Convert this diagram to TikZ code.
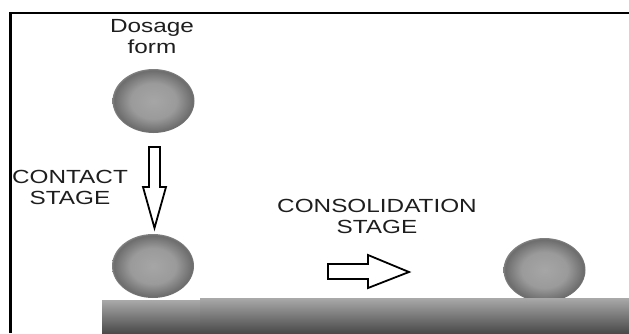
\documentclass[tikz,border=0pt]{standalone}
\usepackage{fontspec}
\setmainfont{Liberation Sans}
\usetikzlibrary{shapes.geometric}
\definecolor{txt}{HTML}{1E1E1E}
\definecolor{ballin}{HTML}{A6A6A6}
\definecolor{ballout}{HTML}{6C6C6C}
\definecolor{bartop}{HTML}{A8A8A8}
\definecolor{barbot}{HTML}{4A4A4A}
\pgfdeclareradialshading{ballshade}{\pgfpoint{0bp}{0bp}}{%
  color(0bp)=(ballin); color(14bp)=(ballin!80!ballout); color(24bp)=(ballout); color(25bp)=(ballout!85!white); color(50bp)=(ballout!85!white)}
\tikzset{
  lbl/.style={font=\fontsize{19}{21}\selectfont, text=txt, align=center, inner sep=0pt, anchor=base, xscale=1.28, transform shape},
  ball/.style={ellipse, shading=ballshade, minimum width=82pt, minimum height=64pt, inner sep=0pt},
  blockarrow/.style={draw=black, fill=white, line width=1.8pt, line join=miter},
  frame/.style={line width=2.5pt, draw=black}
}
\begin{document}
\begin{tikzpicture}[x=1pt, y=-1pt]
\useasboundingbox (0,0) rectangle (629,333);
% frame
\draw[frame] (10.7,333) -- (10.7,12.8) -- (629,12.8);
% labels (anchor at baseline of last line)
\node[lbl] (dose) at (152,53) {Dosage\\form};
\node[lbl] (contact) at (70,204) {CONTACT\\STAGE};
\node[lbl] (consol) at (377,233) {CONSOLIDATION\\STAGE};
% spheres
\node[ball] (s1) at (153.5,101) {};
\node[ball] (s2) at (153,266) {};
\node[ball] (s3) at (544.5,270) {};
% surface
\shade[top color=bartop, bottom color=barbot] (102,300.5) rectangle (200,333);
\shade[top color=bartop, bottom color=barbot] (200,298.5) rectangle (629,333);
% down arrow
\draw[blockarrow] (149,147) -- (160,147) -- (160,187) -- (166,187) -- (154.5,228) -- (143,187) -- (149,187) -- cycle;
% right arrow
\draw[blockarrow] (328,264) -- (368,264) -- (368,255) -- (409,272) -- (368,288) -- (368,279) -- (328,279) -- cycle;
\end{tikzpicture}
\end{document}
